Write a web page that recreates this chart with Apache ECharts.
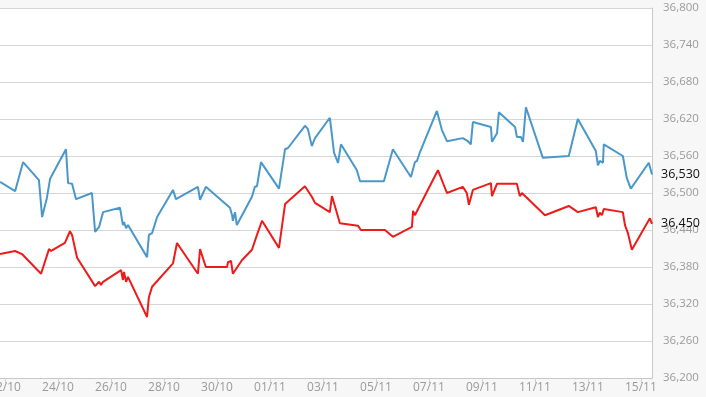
<!DOCTYPE html>
<html>
<head>
<meta charset="utf-8">
<script src="https://cdn.jsdelivr.net/npm/echarts@6/dist/echarts.min.js"></script>
<style>
html, body { margin: 0; padding: 0; background: #f7f7f7; }
#chart { width: 706px; height: 397px; }
</style>
</head>
<body>
<div id="chart"></div>
<script>
// x = days after 22/10
var blueDays = [-0.19, 0.38, 0.68, 1.28, 1.40, 1.58, 1.70, 2.30, 2.38, 2.53, 2.68, 3.28, 3.40, 3.47, 3.55, 3.62, 3.70,
    4.34, 4.45, 4.49, 4.57, 4.64, 5.36, 5.43, 5.55, 5.74, 6.34, 6.45, 7.28, 7.36, 7.58, 8.49, 8.57, 8.60, 8.68, 8.75,
    9.32, 9.43, 9.51, 9.66, 10.34, 10.57, 10.68, 11.32, 11.43, 11.58, 11.70, 12.26, 12.42, 12.49, 12.57, 12.68,
    13.28, 13.40, 14.30, 14.64, 15.32, 15.47, 15.55, 15.66, 16.30, 16.49, 16.68, 17.28, 17.47, 17.58, 17.66,
    18.34, 18.38, 18.57, 18.64, 19.25, 19.32, 19.47, 19.55, 19.66, 20.30, 21.28, 21.62, 22.30, 22.38, 22.45,
    22.57, 22.60, 23.32, 23.47, 23.51, 23.62, 24.30, 24.42];
var blueValues = [36518, 36503, 36550, 36521, 36461, 36492, 36523, 36571, 36516, 36515, 36490, 36500, 36437, 36435, 36445, 36443, 36469,
    36476, 36448, 36453, 36443, 36448, 36396, 36432, 36435, 36461, 36505, 36490, 36510, 36489, 36510, 36476, 36464, 36455, 36469, 36448,
    36494, 36510, 36511, 36550, 36507, 36571, 36573, 36609, 36604, 36576, 36589, 36622, 36565, 36562, 36549, 36579,
    36537, 36519, 36519, 36571, 36526, 36550, 36552, 36566, 36633, 36602, 36584, 36589, 36584, 36579, 36615,
    36607, 36583, 36597, 36631, 36607, 36591, 36591, 36583, 36639, 36557, 36560, 36620, 36568, 36545, 36552,
    36549, 36579, 36560, 36524, 36526, 36507, 36549, 36530];

var redDays = [-0.19, 0.38, 0.64, 1.36, 1.66, 1.74, 2.26, 2.45, 2.53, 2.72, 3.40, 3.47, 3.55, 3.62, 3.70,
    4.38, 4.45, 4.49, 4.57, 4.64, 5.36, 5.43, 5.55, 6.34, 6.49, 7.28, 7.36, 7.58, 8.38, 8.42, 8.53, 8.60,
    8.94, 9.32, 9.51, 9.70, 10.34, 10.57, 10.64, 11.32, 11.58, 11.70, 12.26, 12.34, 12.64, 13.32, 13.43,
    14.34, 14.64, 15.36, 15.40, 15.47, 16.34, 16.68, 17.28, 17.43, 17.51, 17.66, 18.34, 18.38, 18.57,
    19.32, 19.43, 19.51, 20.38, 21.28, 21.62, 22.30, 22.38, 22.45, 22.53, 22.60, 23.32, 23.40, 23.51,
    23.66, 24.34, 24.42];
var redValues = [36401, 36406, 36401, 36369, 36409, 36406, 36419, 36438, 36432, 36395, 36349, 36348, 36356, 36351, 36356,
    36375, 36359, 36372, 36356, 36364, 36299, 36331, 36348, 36386, 36419, 36369, 36409, 36380, 36380, 36388, 36390, 36369,
    36391, 36408, 36432, 36455, 36411, 36482, 36479, 36511, 36494, 36484, 36469, 36495, 36451, 36447, 36440,
    36440, 36429, 36445, 36471, 36464, 36537, 36500, 36510, 36500, 36481, 36505, 36516, 36495, 36515,
    36515, 36495, 36500, 36464, 36479, 36469, 36477, 36461, 36468, 36464, 36474, 36469, 36448, 36435,
    36408, 36459, 36450];

var tickDays = [0, 2, 4, 6, 8, 10, 12, 14, 16, 18, 20, 22, 24];
var tickLabels = ['22/10', '24/10', '26/10', '28/10', '30/10', '01/11', '03/11', '05/11', '07/11', '09/11', '11/11', '13/11', '15/11'];
var lastValues = [36530, 36450];

function withComma(v) {
    return String(v).replace(/\B(?=(\d{3})+(?!\d))/g, ',');
}
function pairs(xs, ys) {
    return xs.map(function (x, i) { return [x, ys[i]]; });
}

var chart = echarts.init(document.getElementById('chart'));
chart.setOption({
    animation: false,
    backgroundColor: '#f7f7f7',
    textStyle: { fontFamily: 'Open Sans' },
    grid: {
        left: 0, right: 54, top: 8, bottom: 19,
        outerBoundsMode: 'none',
        show: true, backgroundColor: '#ffffff', borderWidth: 0
    },
    xAxis: {
        type: 'value',
        min: -0.19,
        max: 24.42,
        splitLine: { show: false },
        axisLine: { onZero: false, lineStyle: { color: '#c8c8c8', width: 1 } },
        axisTick: {
            customValues: tickDays,
            length: 5,
            lineStyle: { color: '#d0d0d0' }
        },
        axisLabel: {
            customValues: tickDays,
            margin: 4,
            color: '#9a9a9a',
            fontSize: 12,
            alignMinLabel: 'center',
            alignMaxLabel: 'center',
            formatter: function (v) {
                var i = tickDays.indexOf(Math.round(v));
                return i >= 0 ? tickLabels[i] : '';
            }
        }
    },
    yAxis: [{
        type: 'value',
        position: 'right',
        min: 36200,
        max: 36800,
        interval: 60,
        axisLine: { show: true, onZero: false, lineStyle: { color: '#c8c8c8', width: 1 } },
        axisTick: { show: false },
        splitLine: { lineStyle: { color: '#d6d6d6', width: 1.2 } },
        axisLabel: {
            margin: 11,
            color: '#9a9a9a',
            fontSize: 11.5,
            formatter: withComma
        }
    }, {
        type: 'value',
        position: 'right',
        min: 36200,
        max: 36800,
        axisLine: { show: false, onZero: false },
        axisTick: { show: false },
        splitLine: { show: false },
        axisLabel: {
            customValues: lastValues,
            margin: 9,
            color: '#111111',
            fontSize: 12.5,
            formatter: withComma
        }
    }],
    series: [
        {
            name: 'blue',
            type: 'line',
            data: pairs(blueDays, blueValues),
            showSymbol: false,
            lineStyle: { color: '#4a98c9', width: 2 },
            itemStyle: { color: '#4a98c9' }
        },
        {
            name: 'red',
            type: 'line',
            data: pairs(redDays, redValues),
            showSymbol: false,
            lineStyle: { color: '#ee1b1b', width: 2 },
            itemStyle: { color: '#ee1b1b' }
        }
    ]
});
</script>
</body>
</html>
